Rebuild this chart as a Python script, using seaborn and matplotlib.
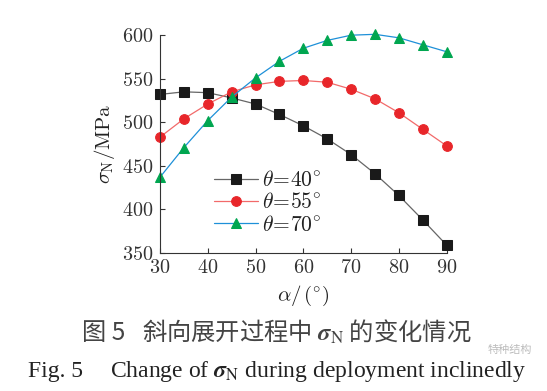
import pandas as pd
import matplotlib
matplotlib.use('Agg')
import matplotlib.pyplot as plt
import seaborn as sns

# Values
alpha = [30, 35, 40, 45, 50, 55, 60, 65, 70, 75, 80, 85, 90]
sigma_40 = [532, 535, 534, 528, 521, 509, 496, 481, 463, 441, 416, 388, 359]
sigma_55 = [483, 504, 521, 535, 543, 547, 548, 546, 538, 527, 511, 492, 473]
sigma_70 = [437, 471, 502, 529, 551, 570, 585, 594, 600, 601, 597, 589, 581]
series_labels = [r'$\theta\!=\!40^{\circ}$', r'$\theta\!=\!55^{\circ}$', r'$\theta\!=\!70^{\circ}$']
x_ticks = [30, 40, 50, 60, 70, 80, 90]
y_ticks = [350, 400, 450, 500, 550, 600]

sns.set_style('ticks')
plt.rcParams['font.family'] = ['Liberation Serif', 'DejaVu Serif']
plt.rcParams['mathtext.fontset'] = 'cm'

fig = plt.figure(figsize=(5.47, 3.91), dpi=100)
ax = fig.add_axes([0.2925, 0.353, 0.524, 0.557])

styles = [
    dict(color='#666666', marker='s', mfc='#1a1a1a', mec='#1a1a1a', markersize=6.5),
    dict(color='#f26a6a', marker='o', mfc='#e8262a', mec='#e8262a', markersize=7),
    dict(color='#1e90d8', marker='^', mfc='#00a650', mec='#00a650', markersize=7.5),
]
for vals, lab, st in zip([sigma_40, sigma_55, sigma_70], series_labels, styles):
    df = pd.DataFrame({'alpha': alpha, 'sigma': vals})
    sns.lineplot(data=df, x='alpha', y='sigma', ax=ax, label=lab,
                 linewidth=0.9, clip_on=False, **st)

ax.set_xlim(30, 90)
ax.set_ylim(350, 600)
ax.set_xticks(x_ticks)
ax.set_xticklabels([f'${v}$' for v in x_ticks])
ax.set_yticks(y_ticks)
ax.set_yticklabels([f'${v}$' for v in y_ticks])
ax.tick_params(direction='in', length=3.5, width=0.8, labelsize=14.5, pad=4.5, colors='#333333')
for s in ['top', 'right']:
    ax.spines[s].set_visible(False)
for s in ['left', 'bottom']:
    ax.spines[s].set_linewidth(0.8)
    ax.spines[s].set_color('#333333')

ax.set_xlabel(r'$\alpha/\,(^{\circ})$', fontsize=15, labelpad=4, color='#222222')
ax.set_ylabel(r'$\sigma_{\rm N}/\mathrm{MPa}$', fontsize=15, labelpad=4, color='#222222')

leg = ax.legend(loc='lower left', bbox_to_anchor=(0.16, 0.04), frameon=False,
                fontsize=15.5, handlelength=2.0, handletextpad=0.2,
                labelspacing=0.1, borderaxespad=0)
for t in leg.get_texts():
    t.set_color('#222222')

cjk = ['Noto Sans CJK SC', 'DejaVu Sans']
fig.text(82 / 547, 1 - 333 / 391, '图 5', ha='left', va='center', fontsize=17.5,
         family=cjk, color='#444444', fontweight='light')
fig.text(142 / 547, 1 - 333 / 391,
         r'斜向展开过程中 $\boldsymbol{\sigma}_{\mathrm{N}}$ 的变化情况',
         ha='left', va='center', fontsize=17.5, family=cjk, color='#444444',
         fontweight='light', math_fontfamily='stix')
fig.text(28 / 547, 1 - 371 / 391, 'Fig. 5', ha='left', va='center', fontsize=17,
         color='#222222')
fig.text(110 / 547, 1 - 371 / 391,
         r'Change of $\boldsymbol{\sigma}_{\mathrm{N}}$ during deployment inclinedly',
         ha='left', va='center', fontsize=17, color='#222222',
         math_fontfamily='stix')
# faint watermark in the lower right corner
fig.text(510 / 547, 1 - 350 / 391, '特种结构', ha='center', va='center', fontsize=8,
         family=cjk, color='#b0b0b0', alpha=0.85)

fig.savefig('out.png', dpi=100)
